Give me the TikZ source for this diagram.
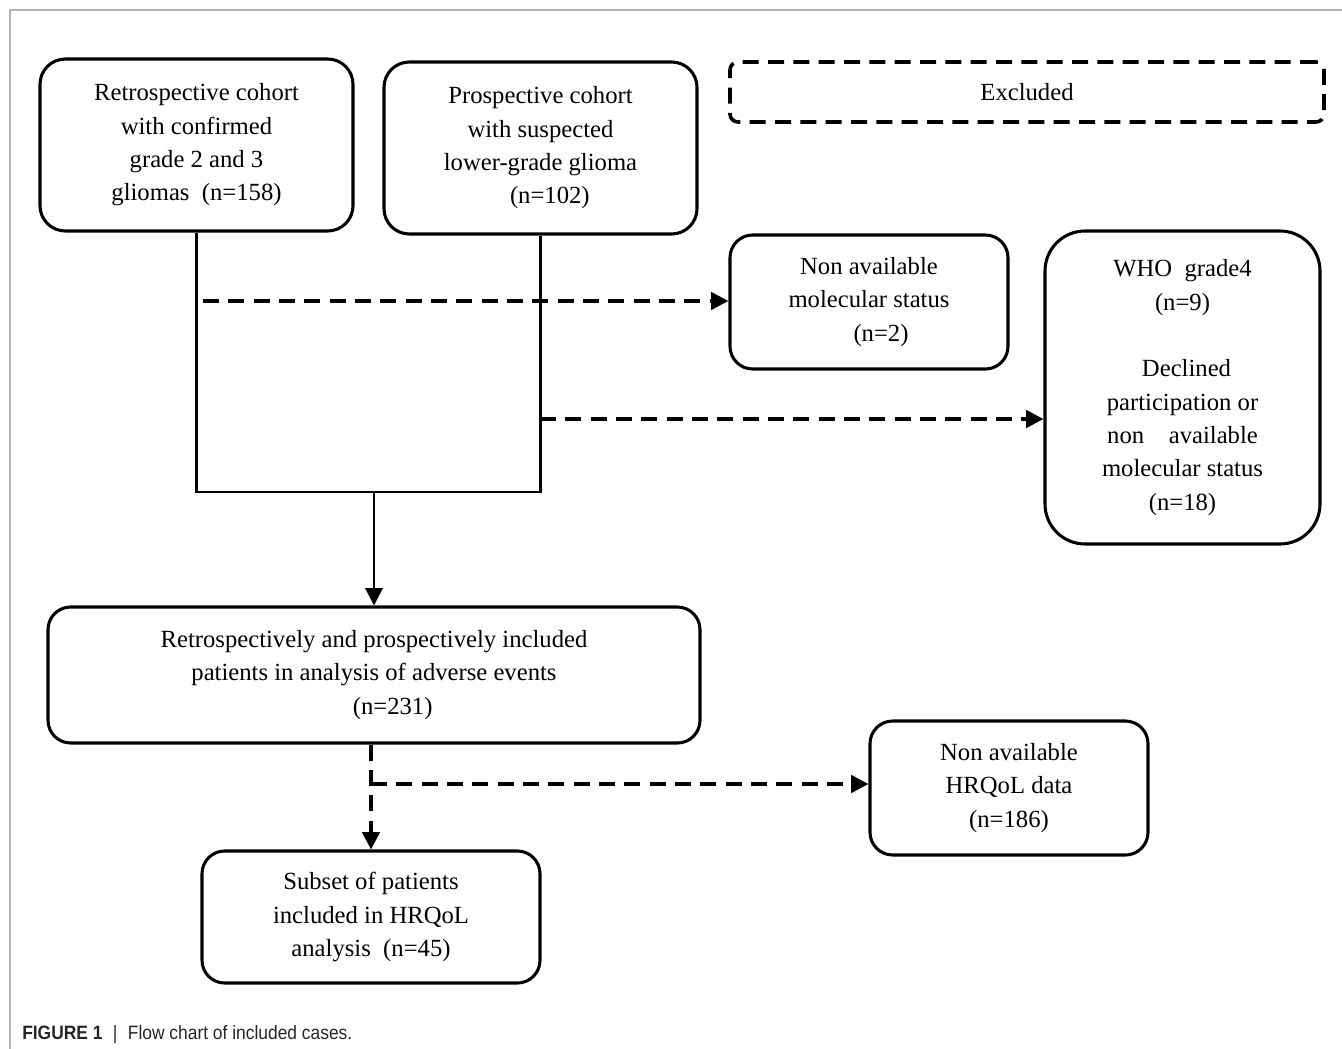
\documentclass[tikz,border=0pt]{standalone}
\usepackage{fontspec}
\setmainfont{Liberation Serif}
\newfontfamily\capfont{Liberation Sans}
\usetikzlibrary{arrows.meta}
\begin{document}
\begin{tikzpicture}[x=0.75pt,y=-0.75pt,
  fbox/.style={draw, line width=2.3pt, align=center, inner sep=0pt,
    font=\fontsize{18.5}{25}\selectfont},
  conn/.style={line width=1.7pt},
  dconn/.style={line width=2.7pt, dash pattern=on 12pt off 7pt},
  tip/.style={-{Triangle[length=13pt,width=13pt]}}]
\useasboundingbox (0,0) rectangle (1342,1049);
\draw[gray!60, line width=0.8pt] (10,1049) -- (10,10) -- (1342,10);

\node[fbox, rounded corners=19pt, minimum width=234.75pt, minimum height=129pt] (A) at (196.5,145)
  {Retrospective cohort\\ with confirmed\\ grade 2 and 3\\ gliomas\ \ (n=158)};
\node[fbox, rounded corners=19pt, minimum width=234.75pt, minimum height=129pt] (B) at (540.5,148)
  {Prospective cohort\\ with suspected\\ lower-grade glioma\\ \hspace*{14pt}(n=102)};
\node[fbox, line width=2.7pt, dash pattern=on 12pt off 7pt, rounded corners=6pt, minimum width=445.5pt, minimum height=45pt] (X) at (1027,92)
  {Excluded};
\node[fbox, rounded corners=17pt, minimum width=208.5pt, minimum height=100.5pt] (C) at (869,302)
  {Non available\\ molecular status\\ \hspace*{18pt}(n=2)};
\node[fbox, rounded corners=30pt, minimum width=206.25pt, minimum height=234.75pt] (D) at (1182.5,387.5)
  {WHO\ \ grade4\\ (n=9)\\[25pt] \hspace*{6pt}Declined\\ participation or\\ non\quad available\\ molecular status\\ (n=18)};
\node[fbox, rounded corners=17pt, minimum width=489pt, minimum height=102pt] (E) at (374,675)
  {Retrospectively and prospectively included\\ patients in analysis of adverse events\\ \hspace*{28pt}(n=231)};
\node[fbox, rounded corners=17pt, minimum width=208.5pt, minimum height=100.5pt] (G) at (1009,788)
  {Non available\\ HRQoL data\\ (n=186)};
\node[fbox, rounded corners=17pt, minimum width=253.5pt, minimum height=99pt] (F) at (371,917)
  {Subset of patients\\ included in HRQoL\\ analysis\ \ (n=45)};

\coordinate (J) at (374,492);
\coordinate (d1) at (203,301);
\coordinate (d2) at (540,419);
\coordinate (d3) at (371,784);

\draw[conn] (A.south) -- (A.south |- J) -- (B.south |- J) -- (B.south);
\draw[conn, tip] (J) -- (E.north);
\draw[dconn, tip] (d1) -- (d1 -| C.west);
\draw[dconn, tip] (d2) -- (d2 -| D.west);
\draw[dconn, tip] (F.north |- E.south) -- (F.north);
\draw[dconn, tip] (d3) -- (d3 -| G.west);

\node[anchor=west, inner sep=0pt, font=\capfont\fontsize{14.5}{16}\selectfont, text=black!85] (cap) at (22,1035)
  {\scalebox{0.9}[1]{\textbf{FIGURE 1}\hspace{0.6em}|\hspace{0.6em}Flow chart of included cases.}};
\end{tikzpicture}
\end{document}
